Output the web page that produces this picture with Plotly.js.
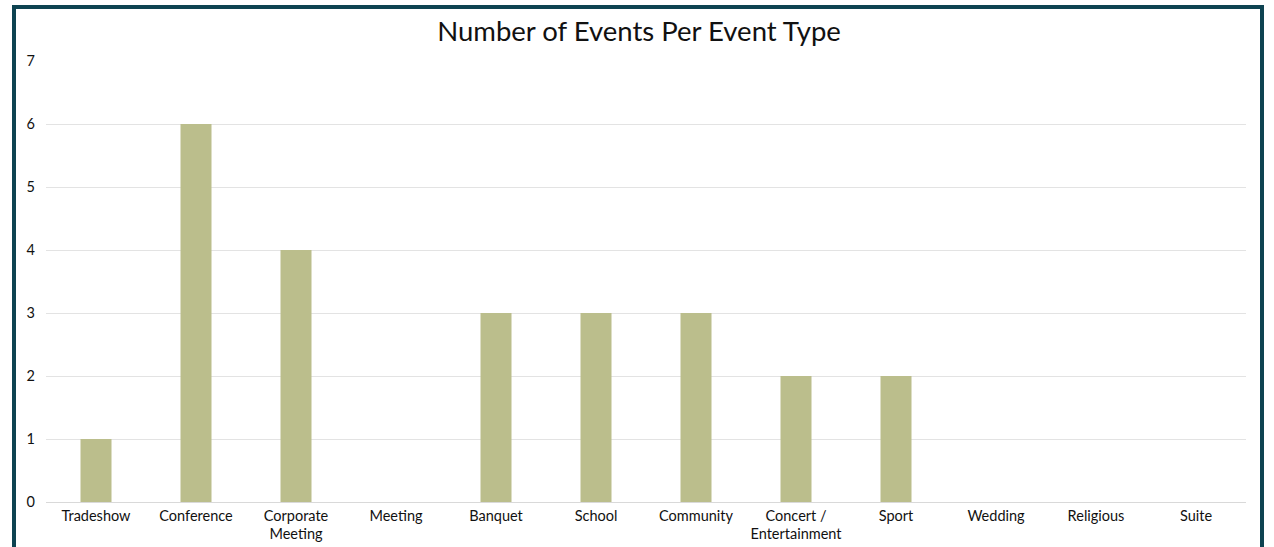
<!DOCTYPE html>
<html>
<head>
<meta charset="utf-8">
<script src="https://cdn.plot.ly/plotly-3.0.1.min.js"></script>
<style>
  html, body { margin: 0; padding: 0; background: #ffffff; overflow: hidden; }
  #chart { position: absolute; left: 0; top: 0; width: 1274px; height: 547px; }
  #frame { position: absolute; left: 12px; top: 5px; width: 1244px; height: 600px;
           border: 4px solid #0e4351; pointer-events: none; }
</style>
</head>
<body>
<div id="chart"></div>
<div id="frame"></div>
<script>
const categories = ["Tradeshow", "Conference", "Corporate<br>Meeting", "Meeting", "Banquet", "School",
                    "Community", "Concert /<br>Entertainment", "Sport", "Wedding", "Religious", "Suite"];
const eventCounts = [1, 6, 4, 0, 3, 3, 3, 2, 2, 0, 0, 0];
const yTickValues = [0, 1, 2, 3, 4, 5, 6, 7];
const chartTitle = "Number of Events Per Event Type";

const fontFamily = "Lato, 'Noto Sans', sans-serif";

const trace = {
  type: "bar",
  x: categories,
  y: eventCounts,
  marker: { color: "#bbbe8c" },
  hoverinfo: "x+y"
};

const layout = {
  width: 1274,
  height: 547,
  paper_bgcolor: "#ffffff",
  plot_bgcolor: "#ffffff",
  margin: { l: 46, r: 28, t: 61, b: 45, pad: 0 },
  bargap: 0.69,
  showlegend: false,
  title: {
    text: chartTitle,
    font: { family: fontFamily, size: 27.5, color: "#111111" },
    x: 0.5016, xref: "container", xanchor: "center",
    y: 0.943, yref: "container", yanchor: "middle"
  },
  xaxis: {
    type: "category",
    tickfont: { family: fontFamily, size: 14.5, color: "#111111" },
    showgrid: false,
    showline: false,
    ticks: "",
    ticklabelstandoff: 3,
    fixedrange: true
  },
  yaxis: {
    range: [0, 7],
    tickvals: yTickValues,
    ticktext: yTickValues.map(String),
    tickfont: { family: fontFamily, size: 14.5, color: "#111111" },
    showgrid: true,
    gridcolor: "#e3e3e3",
    gridwidth: 1,
    zeroline: true,
    zerolinecolor: "#d9d9d9",
    zerolinewidth: 1,
    showline: false,
    ticks: "",
    ticklabelstandoff: 10,
    fixedrange: true
  }
};

Plotly.newPlot("chart", [trace], layout, { displayModeBar: false, staticPlot: true });
</script>
</body>
</html>
